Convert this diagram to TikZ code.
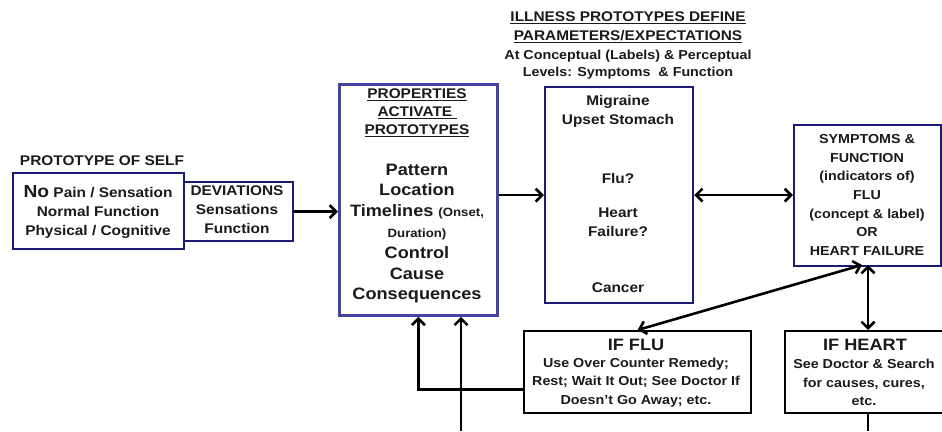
\documentclass[tikz,border=0pt]{standalone}
\usepackage{fontspec}
\setmainfont[FakeStretch=1.1]{Liberation Sans}
\usetikzlibrary{arrows.meta,calc}
\definecolor{navy}{HTML}{1C1C72}
\definecolor{pblue}{HTML}{4343A8}
\definecolor{ink}{HTML}{1A1A1A}
\tikzset{
  boxn/.style={draw=navy, line width=2.2pt, inner sep=0pt, anchor=north west},
  boxp/.style={draw=pblue, line width=2.8pt, inner sep=0pt, anchor=north west},
  boxk/.style={draw=black, line width=2.2pt, inner sep=0pt, anchor=north west},
  txt/.style={align=center, inner sep=0pt, text=ink, font=\bfseries\fontsize{14}{19}\selectfont},
  tip/.tip={Straight Barb[length=6.5pt,width=13pt,line width=2.6pt]},
  arr/.style={line width=2.6pt, -tip},
  darr/.style={line width=2.6pt, tip-tip},
  plain/.style={line width=2.6pt}
}
\begin{document}
\begin{tikzpicture}[x=1pt,y=-1pt]
\useasboundingbox[fill=white] (0,0) rectangle (942,431);
% boxes
\node[boxn, minimum width=171pt, minimum height=76pt] (self) at (12,172) {};
\node[boxn, minimum width=109pt, minimum height=59pt] (dev) at (183,181) {};
\node[boxp, minimum width=158pt, minimum height=231pt] (props) at (338,83) {};
\node[boxn, minimum width=148pt, minimum height=216pt] (ill) at (544,86) {};
\node[boxn, minimum width=147pt, minimum height=141pt] (sym) at (793,124) {};
\node[boxk, minimum width=227pt, minimum height=82pt] (flu) at (523,330) {};
\node[boxk, minimum width=160pt, minimum height=82pt] (heart) at (784,330) {};
% texts
\node[txt] (selft) at (102,161) {PROTOTYPE OF SELF};
\node[txt] (selfx) at (98,212) {{\fontsize{17.5}{19}\selectfont No} Pain / Sensation\\Normal Function\\Physical / Cognitive};
\node[txt] (devx) at (237,210) {DEVIATIONS\\Sensations\\Function};
\node[txt, font=\bfseries\fontsize{14}{18}\selectfont] (propt) at (417,113) {\underline{PROPERTIES}\\\underline{ACTIVATE }\\\underline{PROTOTYPES}};
\node[txt, font=\bfseries\fontsize{16.5}{20.8}\selectfont] (propx) at (417,233.5) {Pattern\\Location\\Timelines {\fontsize{12}{20.8}\selectfont(Onset,}\\{\fontsize{12}{20.8}\selectfont Duration)}\\Control\\Cause\\Consequences};
\node[txt, font=\bfseries\fontsize{14}{19}\selectfont] (illt) at (628,27.5) {\underline{ILLNESS PROTOTYPES DEFINE}\\\underline{PARAMETERS/EXPECTATIONS}};
\node[txt, font=\bfseries\fontsize{13}{17}\selectfont] (illt2) at (628,64.5) {At Conceptual (Labels) \& Perceptual\\Levels: Symptoms~ \& Function};
\node[txt] (ill1) at (618,111.5) {Migraine\\Upset Stomach};
\node[txt] (ill2) at (618,178) {Flu?};
\node[txt] (ill3) at (618,222.5) {Heart\\Failure?};
\node[txt] (ill4) at (618,288) {Cancer};
\node[txt, font=\bfseries\fontsize{13}{18.7}\selectfont] (symx) at (867,195) {SYMPTOMS \&\\FUNCTION\\(indicators of)\\FLU\\(concept \& label)\\OR\\HEART FAILURE};
\node[txt, font=\bfseries\fontsize{16.5}{19}\selectfont] (flut) at (636,345) {IF FLU};
\node[txt, font=\bfseries\fontsize{13}{18.5}\selectfont] (flux) at (636,382.5) {Use Over Counter Remedy;\\Rest; Wait It Out; See Doctor If\\Doesn't Go Away; etc.};
\node[txt, font=\bfseries\fontsize{16.5}{19}\selectfont] (heartt) at (865,345) {IF HEART};
\node[txt, font=\bfseries\fontsize{13}{18.5}\selectfont] (heartx) at (864,382.5) {See Doctor \& Search\\for causes, cures,\\etc.};
% connectors
\coordinate (in1) at (461,431);
\coordinate (out1) at (868,431);
\coordinate (symb) at (868,265);
\draw[arr] (dev.east) -- (dev.east -| props.west);
\draw[arr] (props.east |- ill.west) -- (ill.west);
\draw[darr] (ill.east) -- (ill.east -| sym.west);
\draw[darr] ([xshift=-6pt]symb) -- (flu.north);
\draw[darr] (symb) -- (symb |- heart.north);
\draw[arr] ([yshift=-17.5pt]flu.west) -| (props.south);
\draw[arr] (in1) -- (in1 |- props.south);
\draw[plain] (heart.south -| out1) -- (out1);
\end{tikzpicture}
\end{document}
